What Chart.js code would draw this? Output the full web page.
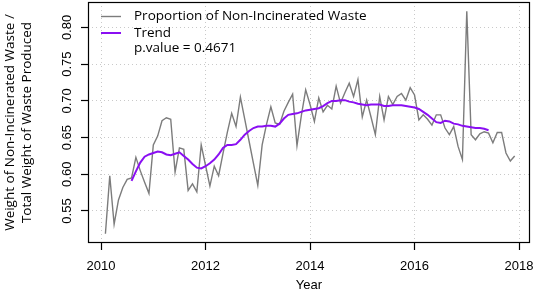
<!DOCTYPE html>
<html>
<head>
<meta charset="utf-8">
<script src="https://cdn.jsdelivr.net/npm/chart.js@4.4.1/dist/chart.umd.min.js"></script>
<style>
  html, body { margin: 0; padding: 0; background: #fff; }
</style>
</head>
<body>
<canvas id="wasteChart" width="536" height="293"></canvas>
<script>
// monthly series, first observation Feb 2010
const startYear = 2010;
const startMonth = 2;

const wasteShare = [
  0.519, 0.598, 0.532, 0.565, 0.582, 0.593, 0.595, 0.623, 0.605, 0.589,
  0.574, 0.640, 0.652, 0.673, 0.677, 0.675, 0.603, 0.636, 0.634, 0.578,
  0.587, 0.576, 0.640, 0.612, 0.584, 0.611, 0.598, 0.628, 0.657, 0.683,
  0.665, 0.705, 0.675, 0.645, 0.615, 0.585, 0.640, 0.668, 0.692, 0.670,
  0.668, 0.686, 0.698, 0.709, 0.639, 0.680, 0.715, 0.695, 0.672, 0.704,
  0.685, 0.694, 0.689, 0.720, 0.697, 0.711, 0.724, 0.706, 0.729, 0.678,
  0.701, 0.678, 0.654, 0.706, 0.674, 0.706, 0.695, 0.706, 0.710, 0.701,
  0.718, 0.708, 0.674, 0.681, 0.675, 0.667, 0.681, 0.681, 0.663, 0.654,
  0.665, 0.638, 0.620, 0.822, 0.654, 0.647, 0.655, 0.658, 0.656, 0.643,
  0.657, 0.657, 0.629, 0.618, 0.625
];

// trend is missing for the first and last six months
const trendShare = [
  null, null, null, null, null, null,
  0.591, 0.604, 0.616, 0.624, 0.627, 0.629, 0.631, 0.630, 0.627, 0.626,
  0.628, 0.630, 0.625, 0.620, 0.614, 0.609, 0.608, 0.611, 0.615, 0.620,
  0.627, 0.636, 0.640, 0.640, 0.641, 0.647, 0.654, 0.659, 0.663, 0.665,
  0.665, 0.666, 0.666, 0.665, 0.669, 0.676, 0.681, 0.682, 0.683, 0.685,
  0.687, 0.688, 0.689, 0.690, 0.693, 0.697, 0.700, 0.700, 0.701, 0.701,
  0.699, 0.698, 0.696, 0.695, 0.694, 0.695, 0.695, 0.695, 0.693, 0.693,
  0.694, 0.694, 0.694, 0.693, 0.692, 0.691, 0.689, 0.685, 0.681, 0.676,
  0.671, 0.670, 0.673, 0.672, 0.669, 0.668, 0.666, 0.665, 0.664, 0.663,
  0.663, 0.662, 0.660,
  null, null, null, null, null, null
];

const xTicks = [2010, 2012, 2014, 2016, 2018];
const xTickLabels = ["2010", "2012", "2014", "2016", "2018"];
const yTicks = [0.55, 0.6, 0.65, 0.7, 0.75, 0.8];
const yTickLabels = ["0.55", "0.60", "0.65", "0.70", "0.75", "0.80"];

const seriesLabel = "Proportion of Non-Incinerated Waste";
const trendLabel = "Trend";
const pValueText = "p.value = 0.4671";

const grey = "#7c7c7c";
const purple = "#8a0ff2";
const gridGrey = "#c9c9c9";
const tickFont = { family: "'Liberation Sans', Arial, sans-serif", size: 13 };
const textFont = "'Open Sans', 'Noto Sans', sans-serif";

const monthYears = wasteShare.map((_, i) => startYear + (startMonth - 1 + i) / 12);
const toPoints = (vals) => vals.map((v, i) => ({ x: monthYears[i], y: v }));

// box around the plot + legend inside the top-left corner
const plotFrame = {
  id: "plotFrame",
  afterDraw(chart) {
    const { ctx, chartArea } = chart;
    ctx.save();
    ctx.strokeStyle = "#000";
    ctx.lineWidth = 1.2;
    ctx.strokeRect(chartArea.left + 0.5, chartArea.top + 0.5,
      chartArea.right - chartArea.left - 1, chartArea.bottom - chartArea.top - 1);

    const x0 = chartArea.left + 13;
    const x1 = chartArea.left + 33;
    const tx = chartArea.left + 46;
    const rows = [chartArea.top + 14.5, chartArea.top + 31, chartArea.top + 46.5];
    ctx.lineWidth = 1.4;
    ctx.strokeStyle = grey;
    ctx.beginPath(); ctx.moveTo(x0, rows[0]); ctx.lineTo(x1, rows[0]); ctx.stroke();
    ctx.lineWidth = 2;
    ctx.strokeStyle = purple;
    ctx.beginPath(); ctx.moveTo(x0, rows[1]); ctx.lineTo(x1, rows[1]); ctx.stroke();

    ctx.fillStyle = "#000";
    ctx.font = "13.5px " + textFont;
    ctx.textBaseline = "middle";
    ctx.textAlign = "left";
    ctx.fillText(seriesLabel, tx, rows[0]);
    ctx.fillText(trendLabel, tx, rows[1]);
    ctx.fillText(pValueText, tx, rows[2]);
    ctx.restore();
  },
};

new Chart(document.getElementById("wasteChart"), {
  type: "line",
  data: {
    datasets: [
      {
        label: trendLabel,
        data: toPoints(trendShare),
        borderColor: purple,
        borderWidth: 2,
        pointRadius: 0,
        tension: 0,
        order: 0,
      },
      {
        label: seriesLabel,
        data: toPoints(wasteShare),
        borderColor: grey,
        borderWidth: 1.4,
        pointRadius: 0,
        tension: 0,
        order: 1,
      },
    ],
  },
  options: {
    responsive: false,
    animation: false,
    devicePixelRatio: 1,
    layout: { padding: { top: 2, right: 6, left: 0, bottom: 0 } },
    plugins: {
      legend: { display: false },
      tooltip: { enabled: false },
    },
    scales: {
      x: {
        type: "linear",
        min: 2009.75,
        max: 2018.21,
        afterBuildTicks: (scale) => {
          scale.ticks = xTicks.map((v) => ({ value: v }));
        },
        afterFit: (scale) => {
          scale.height = 50;
          scale.paddingLeft = 0;
          scale.paddingRight = 0;
        },
        ticks: {
          callback: (value, index) => xTickLabels[index],
          color: "#000",
          font: tickFont,
          padding: 9,
          maxRotation: 0,
        },
        grid: {
          color: gridGrey,
          lineWidth: 1,
          tickLength: 7,
          tickColor: "#000",
          tickWidth: 1.2,
        },
        border: { display: false, dash: [1, 3] },
        title: {
          display: true,
          text: "Year",
          color: "#000",
          font: { family: tickFont.family, size: 13, lineHeight: 1.1 },
          padding: { top: 0, bottom: 0 },
        },
      },
      y: {
        type: "linear",
        min: 0.5064,
        max: 0.8347,
        afterBuildTicks: (scale) => {
          scale.ticks = yTicks.map((v) => ({ value: v }));
        },
        afterFit: (scale) => {
          scale.width = 88;
          scale.paddingTop = 0;
          scale.paddingBottom = 0;
        },
        ticks: {
          callback: (value, index) => yTickLabels[index],
          color: "#000",
          font: tickFont,
          padding: 1,
          minRotation: 90,
          maxRotation: 90,
          crossAlign: "center",
        },
        grid: {
          color: gridGrey,
          lineWidth: 1,
          tickLength: 7,
          tickColor: "#000",
          tickWidth: 1.2,
        },
        border: { display: false, dash: [1, 3] },
        title: {
          display: true,
          text: ["Weight of Non-Incinerated Waste /", "Total Weight of Waste Produced"],
          color: "#000",
          font: { family: textFont, size: 13.5, lineHeight: 1.25 },
          padding: { top: 2, bottom: 0 },
        },
      },
    },
  },
  plugins: [plotFrame],
});
</script>
</body>
</html>
